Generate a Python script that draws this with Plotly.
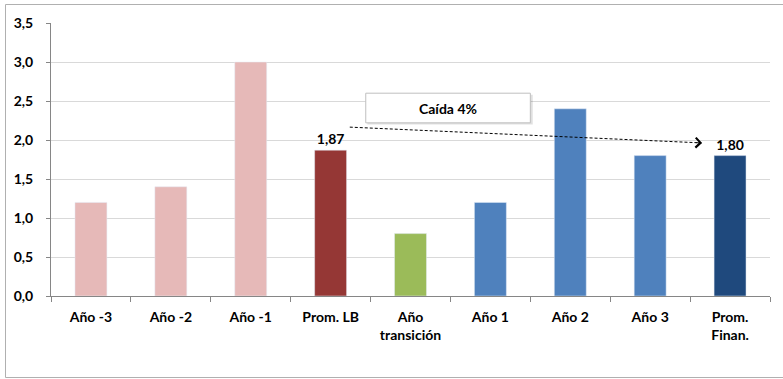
import plotly.graph_objects as go

categories = ["Año -3", "Año -2", "Año -1", "Prom. LB", "Año<br>transición",
              "Año 1", "Año 2", "Año 3", "Prom.<br>Finan."]
values = [1.2, 1.4, 3.0, 1.87, 0.8, 1.2, 2.4, 1.8, 1.8]
labels = ["", "", "", "1,87", "", "", "", "", "1,80"]
colors = ["#E6B9B8", "#E6B9B8", "#E6B9B8", "#953735", "#9BBB59",
          "#4F81BD", "#4F81BD", "#4F81BD", "#1F497D"]
y_ticks = [0, 0.5, 1.0, 1.5, 2.0, 2.5, 3.0, 3.5]
note_text = "Caída 4%"

FONT = "Lato"

fig = go.Figure()
fig.add_trace(go.Bar(
    x=list(range(len(categories))), y=values, marker_color=colors, width=0.4,
    text=labels, textposition="outside", cliponaxis=False,
    textfont=dict(family=FONT, size=14, color="#000000", weight="bold"),
    hoverinfo="skip",
))

W, H = 783, 379
ml, mr, mt, mb = 51, 13, 23, 83
pw, ph = W - ml - mr, H - mt - mb

def px_x(p):
    return (p - ml) / pw

def px_y(p):
    return (H - mb - p) / ph

shapes = [
    # outer chart border
    dict(type="rect", xref="paper", yref="paper",
         x0=px_x(5.5), x1=px_x(800), y0=px_y(4.5), y1=px_y(377.5),
         line=dict(color="#B0B0B0", width=1), layer="below"),
    # note box shadow
    dict(type="rect", xref="x", yref="y", x0=3.46, x1=5.53, y0=2.20, y1=2.58,
         line=dict(width=0), fillcolor="rgba(0,0,0,0.12)", layer="above"),
    # note box
    dict(type="rect", xref="x", yref="y", x0=3.44, x1=5.5, y0=2.22, y1=2.60,
         line=dict(color="#BFBFBF", width=1), fillcolor="#FFFFFF", layer="above"),
    # dashed arrow line
    dict(type="line", xref="x", yref="y", x0=3.24, y0=2.165, x1=7.64, y1=1.963,
         line=dict(color="#000000", width=1, dash="3px,2px"), layer="above"),
]

annotations = [
    dict(x=4.47, y=2.41, xref="x", yref="y", text=note_text, showarrow=False,
         font=dict(family=FONT, size=14, color="#000000", weight="bold")),
    dict(x=7.65, y=1.963, ax=7.55, ay=1.9675, xref="x", yref="y", axref="x", ayref="y",
         text="", showarrow=True, arrowhead=4, arrowsize=2.4, arrowwidth=0.8,
         arrowcolor="#000000"),
]

fig.update_layout(
    width=W, height=H,
    margin=dict(l=ml, r=mr, t=mt, b=mb, autoexpand=False),
    paper_bgcolor="#FFFFFF", plot_bgcolor="#FFFFFF",
    separators=",.",
    showlegend=False,
    shapes=shapes, annotations=annotations,
    font=dict(family=FONT, size=14, color="#000000"),
)
fig.update_xaxes(
    tickmode="array", tickvals=list(range(len(categories))), ticktext=categories,
    range=[-0.5, len(categories) - 0.5],
    showline=True, linecolor="#868686", linewidth=1,
    showgrid=False, ticks="", zeroline=False, automargin=False,
    tickfont=dict(family=FONT, size=14, color="#000000", weight="bold"),
    ticklabelstandoff=8,
    minor=dict(tickvals=[i + 0.5 for i in range(-1, len(categories))],
               ticks="outside", ticklen=5, tickcolor="#868686", showgrid=False),
)
fig.update_yaxes(
    range=[0, 3.5], tickvals=y_ticks, tickformat=".1f",
    showline=True, linecolor="#868686", linewidth=1,
    showgrid=True, gridcolor="#D9D9D9", gridwidth=1, zeroline=False, automargin=False,
    ticks="outside", ticklen=4, tickcolor="#868686",
    tickfont=dict(family=FONT, size=14, color="#000000", weight="bold"),
    ticklabelstandoff=10,
)

fig.write_html("out.html",
               config={"displayModeBar": False, "staticPlot": True},
               post_script="document.body.style.margin='0';document.body.style.overflow='hidden';")
